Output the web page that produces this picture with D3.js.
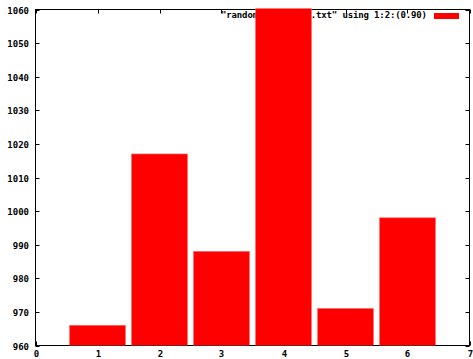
<!DOCTYPE html>
<html>
<head>
<meta charset="utf-8">
<script src="https://cdn.jsdelivr.net/npm/d3@7"></script>
<style>
  body { margin: 0; background: #fff; }
  text { font-family: "DejaVu Sans Mono", monospace; font-weight: bold; font-size: 9px; fill: #000; }
</style>
</head>
<body>
<svg id="chart" width="473" height="359"></svg>
<script>
var xs = [1, 2, 3, 4, 5, 6];
var values = [966, 1017, 988, 1068, 971, 998];
var xTicks = [0, 1, 2, 3, 4, 5, 6, 7];
var yTicks = [960, 970, 980, 990, 1000, 1010, 1020, 1030, 1040, 1050, 1060];
var legendLabel = '"random_numbers10.txt" using 1:2:(0.90)';
var barWidth = 0.9;

var svg = d3.select('svg#chart');
var pLeft = 35.5, pRight = 469.5, pTop = 9.5, pBottom = 345.5;

var x = d3.scaleLinear().domain([0, 7]).range([pLeft, pRight]);
var y = d3.scaleLinear().domain([960, 1060]).range([pBottom, pTop]);

// frame
svg.append('rect')
  .attr('x', pLeft).attr('y', pTop)
  .attr('width', pRight - pLeft).attr('height', pBottom - pTop)
  .style('fill', 'none').style('stroke', '#000').style('stroke-width', '1px');

// ticks, mirrored, pointing inward
var tl = 4;
var ticks = svg.append('g').style('stroke', '#000').style('stroke-width', '1px');
yTicks.forEach(function(t){
  var py = Math.round(y(t)) + 0.5;
  ticks.append('line').attr('x1', pLeft).attr('x2', pLeft + tl).attr('y1', py).attr('y2', py);
  ticks.append('line').attr('x1', pRight).attr('x2', pRight - tl).attr('y1', py).attr('y2', py);
  svg.append('text').attr('x', 29).attr('y', py + 3)
    .attr('text-anchor', 'end').text(t);
});
xTicks.forEach(function(t){
  var px = Math.round(x(t)) + 0.5;
  ticks.append('line').attr('x1', px).attr('x2', px).attr('y1', pBottom).attr('y2', pBottom - tl);
  ticks.append('line').attr('x1', px).attr('x2', px).attr('y1', pTop).attr('y2', pTop + tl);
  svg.append('text').attr('x', px).attr('y', 357)
    .attr('text-anchor', 'middle').text(t);
});

// legend
svg.append('text').attr('x', 221).attr('y', 18)
  .attr('textLength', 206).attr('lengthAdjust', 'spacing')
  .text(legendLabel);
svg.append('rect').attr('x', 434).attr('y', 13).attr('width', 25).attr('height', 6)
  .style('fill', '#ff0000');

// bars (drawn over the legend, clipped to the frame)
svg.append('clipPath').attr('id', 'clip')
  .append('rect').attr('x', pLeft - 1).attr('y', pTop - 1)
  .attr('width', pRight - pLeft + 2).attr('height', pBottom - pTop + 1);

svg.append('g').attr('clip-path', 'url(#clip)')
  .selectAll('rect.bar').data(values).enter().append('rect')
  .attr('class', 'bar')
  .attr('x', function(d, i){ return x(xs[i] - barWidth / 2); })
  .attr('width', function(){ return x(barWidth) - x(0); })
  .attr('y', function(d){ return y(d); })
  .attr('height', function(d){ return pBottom - y(d); })
  .style('fill', '#ff0000')
  .style('stroke', '#ff6060').style('stroke-width', '0.6px');
</script>
</body>
</html>
